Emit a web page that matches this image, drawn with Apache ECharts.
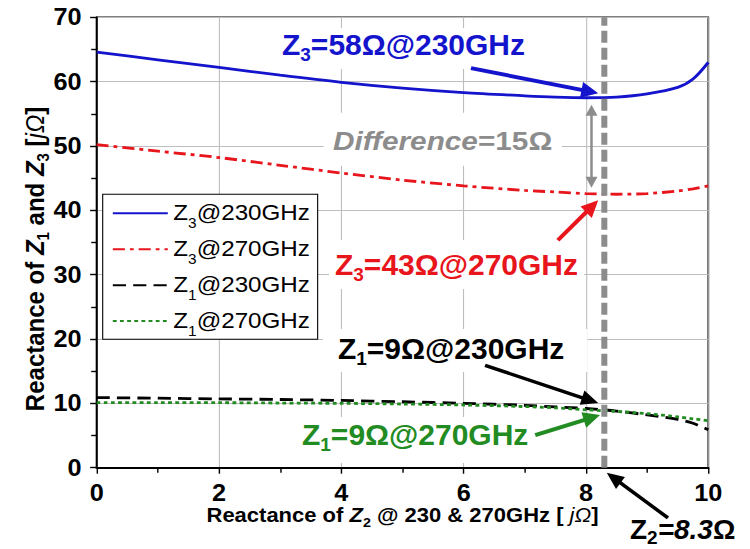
<!DOCTYPE html>
<html>
<head>
<meta charset="utf-8">
<script src="https://cdn.jsdelivr.net/npm/echarts@6.0.0/dist/echarts.min.js"></script>
<style>
html,body{margin:0;padding:0;background:#fff;overflow:hidden;}
#wrap{position:relative;width:750px;height:549px;overflow:hidden;background:#fff;}
#c{position:absolute;left:0;top:0;width:682px;height:549px;transform:scaleX(1.0997067);transform-origin:0 0;}
</style>
</head>
<body>
<div id="wrap"><div id="c"></div></div>
<script>
// ---------------- data ----------------
const xValues = [0, 1, 2, 3, 4, 5, 6, 7, 7.5, 8, 8.5, 9, 9.5, 9.75, 10];
const z3At230 = [64.6, 63.4, 62.2, 61.0, 59.9, 59.0, 58.3, 57.8, 57.6, 57.5, 57.6, 58.1, 59.1, 60.4, 63.0];
const z3At270 = [50.2, 49.2, 48.2, 47.0, 45.8, 44.7, 43.8, 43.1, 42.85, 42.6, 42.5, 42.6, 43.0, 43.35, 43.8];
const z1At230 = [10.9, 10.8, 10.7, 10.6, 10.45, 10.25, 10.0, 9.7, 9.45, 9.2, 8.8, 8.2, 7.5, 6.9, 5.9];
const z1At270 = [10.1, 10.1, 10.1, 10.05, 10.0, 9.9, 9.75, 9.5, 9.3, 9.0, 8.75, 8.4, 7.9, 7.6, 7.3];
const seriesNames = ['Z3@230GHz', 'Z3@270GHz', 'Z1@230GHz', 'Z1@270GHz'];
const xTicks = [0, 2, 4, 6, 8, 10];
const yTicks = [0, 10, 20, 30, 40, 50, 60, 70];
const z2Chosen = 8.3;

// ---------------- presentation ----------------
const S = 750 / 682;            // horizontal stretch of the original figure
const FONT = '"Liberation Sans", Arial, Helvetica, sans-serif';
const C = {blue: '#1414cc', red: '#e8151c', black: '#000000', green: '#228b22', gray: '#8c8c8c'};
const seriesColors = [C.blue, C.red, C.black, C.green];
const seriesDash = ['solid', [11, 4.5, 3.5, 4.5], [12, 6.5], [3.5, 3]];

function richStyles(f, color, o) {
  o = o || {};
  const p0 = o.p0 || 0;
  const sf = Math.round(f * (o.subRatio || 0.63));
  const d = f * (o.subDrop || 0.22);
  const B = p0 + 0.8465 * f;
  const subTop = Math.max(0, B + d - 0.3465 * sf - sf / 2);
  const H = Math.ceil(Math.max(p0 + 1.12 * f, subTop + sf + (o.extra === undefined ? 1 : o.extra)));
  const w = o.weight || 'bold';
  const base = {fontFamily: FONT, fontSize: f, color: color, fill: color, lineHeight: H, verticalAlign: 'top', padding: [p0, 0, 0, 0]};
  return {
    H: H, capOff: p0 + 0.1305 * f, capMid: p0 + 0.4885 * f,
    rich: {
      r: Object.assign({}, base, {fontWeight: w, fontStyle: 'normal'}),
      ri: Object.assign({}, base, {fontWeight: w, fontStyle: 'italic'}),
      it: Object.assign({}, base, {fontWeight: 'normal', fontStyle: 'italic'}),
      s: {fontFamily: FONT, fontSize: sf, color: color, fill: color, fontWeight: w, fontStyle: 'normal',
          lineHeight: H, verticalAlign: 'top', padding: [subTop, 0, 0, 0]}
    }
  };
}
function markup(parts) { return parts.map(p => '{' + p[1] + '|' + p[0] + '}').join(''); }
function subName(n) { return [[n[0], 'r'], [n[1], 's'], [n.slice(2), 'r']]; }

const legendRich = richStyles(22, '#000', {weight: 'normal', p0: 7, subDrop: 0.38, subRatio: 0.64});
const yNameRich = richStyles(24, '#000', {subDrop: 0.22});
const xNameRich = richStyles(20, '#000', {subDrop: 0.25, subRatio: 0.65});

function pairs(ys) { return xValues.map((x, i) => [x, ys[i]]); }
const seriesData = [z3At230, z3At270, z1At230, z1At270];

const gridLeft = 96.7 / S, gridRightPx = 708.3 / S;
const chart = echarts.init(document.getElementById('c'), null, {renderer: 'svg'});

const tickLabel = {fontFamily: FONT, fontSize: 23, fontWeight: 'bold', color: '#000', lineHeight: 18};

const option = {
  animation: false,
  backgroundColor: '#fff',
  grid: {left: gridLeft, right: 682 - gridRightPx, top: 17.3, bottom: 81.3, show: true,
         borderColor: '#000', borderWidth: 1.5, backgroundColor: 'transparent', outerBoundsMode: 'none', containLabel: false},
  legend: {
    data: seriesNames, orient: 'vertical', left: 102.7 / S, top: 194.3,
    padding: [0, 7, 1, 8.2], itemGap: 37.8 - legendRich.H, itemWidth: 50, itemHeight: 14,
    backgroundColor: '#fff', borderColor: '#000', borderWidth: 1, borderRadius: 0, selectedMode: false,
    itemStyle: {opacity: 0, borderWidth: 0},
    formatter: n => markup(subName(n)),
    textStyle: {fontFamily: FONT, fontSize: 22, color: '#000', rich: legendRich.rich}
  },
  xAxis: {
    type: 'value', min: xTicks[0], max: xTicks[xTicks.length - 1], interval: xTicks[1] - xTicks[0],
    name: markup([['Reactance of ', 'r'], ['Z', 'ri'], ['2', 's'], [' @ 230 & 270GHz [ ', 'r'], ['jΩ', 'it'], [']', 'r']]),
    nameLocation: 'middle', nameGap: 37.2, nameMoveOverlap: false,
    nameTextStyle: {fontFamily: FONT, fontSize: 20, fontWeight: 'bold', color: '#000', rich: xNameRich.rich},
    axisLine: {show: true, onZero: false, lineStyle: {color: '#000', width: 2}},
    axisTick: {show: true, inside: false, length: 6, lineStyle: {color: '#000', width: 1.3}},
    minorTick: {show: true, splitNumber: 2, length: 5, lineStyle: {color: '#000', width: 1.3}},
    axisLabel: Object.assign({margin: 16.6, showMinLabel: true, showMaxLabel: true, hideOverlap: false}, tickLabel),
    splitLine: {show: true, lineStyle: {color: '#bdbdbd', width: 1}},
    minorSplitLine: {show: false}
  },
  yAxis: {
    type: 'value', min: yTicks[0], max: yTicks[yTicks.length - 1], interval: yTicks[1] - yTicks[0],
    name: markup([['Reactance of ', 'r'], ['Z', 'ri'], ['1', 's'], [' and ', 'r'], ['Z', 'ri'], ['3', 's'], [' [', 'r'], ['jΩ', 'it'], [']', 'r']]),
    nameLocation: 'middle', nameRotate: 90, nameGap: 39.8, nameMoveOverlap: false,
    nameTextStyle: {fontFamily: FONT, fontSize: 24, fontWeight: 'bold', color: '#000', rich: yNameRich.rich,
                    padding: [0, 33, 0, 0]},
    axisLine: {show: true, onZero: false, lineStyle: {color: '#000', width: 1.8}},
    axisTick: {show: true, inside: false, length: 6, lineStyle: {color: '#000', width: 1.4}},
    minorTick: {show: true, splitNumber: 2, length: 5, lineStyle: {color: '#000', width: 1.4}},
    axisLabel: Object.assign({margin: 13.8, showMinLabel: true, showMaxLabel: true, hideOverlap: false}, tickLabel),
    splitLine: {show: true, lineStyle: {color: '#bdbdbd', width: 1}},
    minorSplitLine: {show: false}
  },
  series: seriesNames.map((n, i) => ({
    name: n, type: 'line', data: pairs(seriesData[i]), smooth: 0.3, symbol: 'none', showSymbol: false,
    lineStyle: {color: seriesColors[i], width: 2.8, type: seriesDash[i], cap: 'butt'},
    itemStyle: {color: seriesColors[i]}, z: 3 + i, silent: true
  })).concat([{
    name: 'Z2 chosen', type: 'line', data: [[z2Chosen, yTicks[0]], [z2Chosen, yTicks[yTicks.length - 1]]],
    symbol: 'none', showSymbol: false, silent: true, z: 8,
    lineStyle: {color: C.gray, width: 6 / S, type: [12, 5], cap: 'butt'}
  }])
};
chart.setOption(option);

// ---------------- annotations ----------------
const annotationTexts = [
  {parts: [['Z', 'r'], ['3', 's'], ['=58Ω@230GHz', 'r']], color: C.blue, f: 30, left: 282, capTop: 33, pad: [1, 6, 4, 6], bg: true},
  {parts: [['Difference', 'ri'], ['=15Ω', 'r']], color: C.gray, f: 25, k: 1.19, left: 333, capTop: 132, pad: [16, 8, 6, 8], bg: true},
  {parts: [['Z', 'r'], ['3', 's'], ['=43Ω@270GHz', 'r']], color: C.red, f: 30, left: 335, capTop: 253, pad: [9, 6, 4, 6], bg: true},
  {parts: [['Z', 'r'], ['1', 's'], ['=9Ω@230GHz', 'r']], color: C.black, f: 30, left: 338, capTop: 337, pad: [4, 23, 3, 15], bg: true},
  {parts: [['Z', 'r'], ['1', 's'], ['=9Ω@270GHz', 'r']], color: C.green, f: 30, left: 302, capTop: 423, pad: [2, 6, 8, 6], bg: true},
  {parts: [['Z', 'r'], ['2', 's'], ['=8.3', 'ri'], ['Ω', 'r']], color: C.black, f: 28, left: 630, capTop: 519, pad: [0, 0, 0, 0], bg: false,
   subRatio: 0.68, subDrop: 0.18, extra: 0}
];
const annotationArrows = [
  {from: [6.12, 62.1], to: [8.20, 58.2], color: C.blue, w: 4, hl: 17, hw: 8},
  {from: [8.09, 56.4], to: [8.09, 43.5], color: C.gray, w: 2.5, hl: 11, hw: 6, both: true},
  {from: [7.54, 35.35], to: [8.20, 41.57], color: C.red, w: 4, hl: 17, hw: 8},
  {from: [6.35, 15.9], to: [8.20, 10.05], color: C.black, w: 3.5, hl: 17, hw: 7.5},
  {from: [7.17, 5.08], to: [8.23, 8.19], color: C.green, w: 4, hl: 17, hw: 8},
  {from: [9.34, -7.8], to: [8.34, -0.8], color: C.black, w: 3.5, hl: 17, hw: 7.5}
];

function toScreen(pt) { const p = chart.convertToPixel({gridIndex: 0}, pt); return [p[0] * S, p[1]]; }

function textEl(a) {
  const R = richStyles(a.f, a.color, {subRatio: a.subRatio, subDrop: a.subDrop, extra: a.extra});
  const k = a.k || 1;
  const pad = a.pad;
  return {
    type: 'text', z: 100,
    x: (a.left - pad[3] * k) / S,
    y: a.capTop - R.capOff - pad[0],
    scaleX: k / S,
    style: {
      text: markup(a.parts), rich: R.rich, fill: a.color,
      fontFamily: FONT, fontSize: a.f, fontWeight: 'bold',
      backgroundColor: a.bg ? '#ffffff' : 'transparent',
      padding: pad, align: 'left', verticalAlign: 'top'
    }
  };
}

function arrowEls(a) {
  const p = toScreen(a.from), q = toScreen(a.to);
  const dx = q[0] - p[0], dy = q[1] - p[1], len = Math.hypot(dx, dy);
  const ux = dx / len, uy = dy / len, nx = -uy, ny = ux;
  const head = (tip, ex, ey) => {
    const bx = tip[0] - ex * a.hl, by = tip[1] - ey * a.hl;
    return {type: 'polygon', z: 102,
      shape: {points: [[tip[0] / S, tip[1]], [(bx + nx * a.hw) / S, by + ny * a.hw], [(bx - nx * a.hw) / S, by - ny * a.hw]]},
      style: {fill: a.color}};
  };
  const start = a.both ? [p[0] + ux * a.hl * 0.7, p[1] + uy * a.hl * 0.7] : p;
  const end = [q[0] - ux * a.hl * 0.7, q[1] - uy * a.hl * 0.7];
  const cdx = (end[0] - start[0]) / S, cdy = end[1] - start[1], cl = Math.hypot(cdx, cdy);
  const c = cdx / cl, s = cdy / cl;
  const w = a.w * Math.sqrt(S * S * c * c + s * s) / S;
  const els = [{type: 'line', z: 101,
    shape: {x1: start[0] / S, y1: start[1], x2: end[0] / S, y2: end[1]},
    style: {stroke: a.color, lineWidth: w, lineCap: 'butt'}}];
  els.push(head(q, ux, uy));
  if (a.both) els.push(head(p, -ux, -uy));
  return els;
}

let elements = annotationTexts.map(textEl);
annotationArrows.forEach(a => { elements = elements.concat(arrowEls(a)); });
chart.setOption({graphic: {elements: elements}});
</script>
</body>
</html>
